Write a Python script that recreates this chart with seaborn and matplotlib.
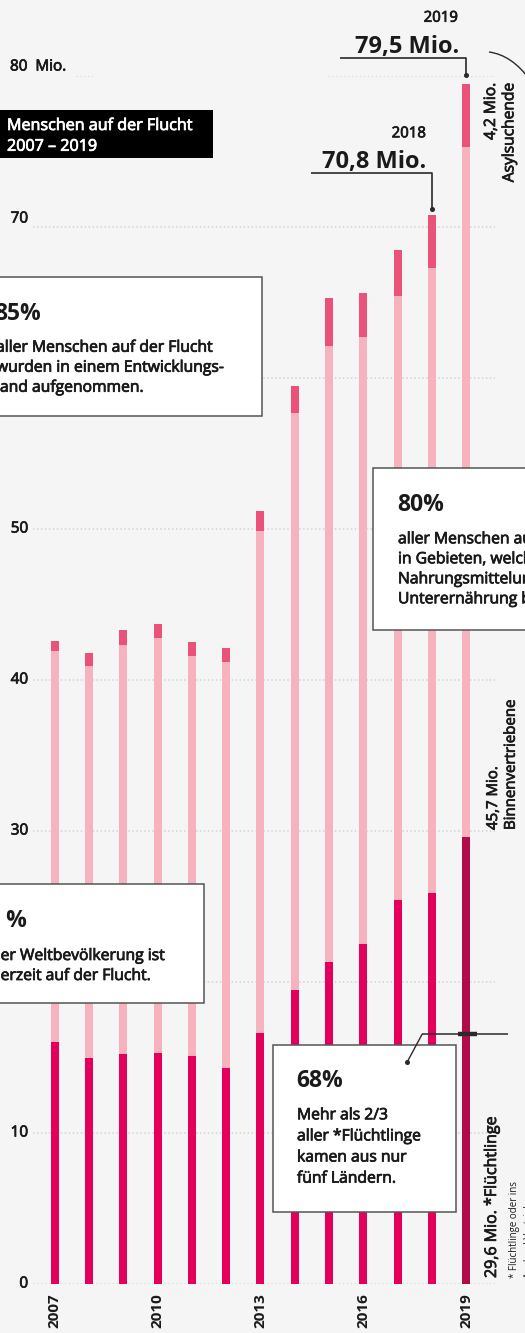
import matplotlib
matplotlib.use("Agg")
import matplotlib.pyplot as plt
import matplotlib.patheffects as pe
import numpy as np
import pandas as pd
import seaborn as sns
from matplotlib.patches import Rectangle, PathPatch
from matplotlib.path import Path
from matplotlib.lines import Line2D

# ---- data (Mio. Menschen) ----
years = [2007, 2008, 2009, 2010, 2011, 2012, 2013, 2014, 2015, 2016, 2017, 2018, 2019]
refugees = [16.0, 15.0, 15.2, 15.3, 15.1, 14.3, 16.6, 19.5, 21.3, 22.5, 25.4, 25.9, 29.6]
idps = [25.9, 25.9, 27.1, 27.5, 26.5, 26.9, 33.3, 38.2, 40.8, 40.2, 40.0, 41.4, 45.7]
asylum = [0.7, 0.9, 1.0, 0.9, 0.9, 0.9, 1.3, 1.8, 3.2, 2.9, 3.1, 3.5, 4.2]
shown_years = [2007, 2010, 2013, 2016, 2019]
y_ticks = [0, 10, 20, 30, 40, 50, 60, 70, 80]

W, H = 525, 1333
BG = "#f5f5f5"
C_REF = "#e4005a"
C_REF_LAST = "#b30a4b"
C_IDP = "#f7b3bd"
C_ASY = "#ea5279"
INK = "#1a1a1a"
BODY = 11.3

sns.set_theme(style="white")
plt.rcParams["font.family"] = ["Open Sans", "DejaVu Sans"]

df = pd.DataFrame({"year": [str(y) for y in years],
                   "ref": refugees, "idp": idps, "asy": asylum})
df["mid"] = df["ref"] + df["idp"]
df["total"] = df["mid"] + df["asy"]


def fx(px):
    return px / W


def fy(py):
    return 1 - py / H


def de_num(v):
    return f"{v:.1f}".replace(".", ",")


def semi(color=INK, w=0.55):
    # slightly heavier strokes for the medium-weight texts
    return [pe.withStroke(linewidth=w, foreground=color)]


fig = plt.figure(figsize=(W / 100, H / 100), dpi=100, facecolor=BG)
ax = fig.add_axes([fx(33), fy(1284), (497 - 33) / W, (1284 - 76) / H])
ax.set_facecolor(BG)

BAR_W = 0.235
common = dict(ax=ax, width=BAR_W, saturation=1, linewidth=0, zorder=2)
sns.barplot(data=df, x="year", y="total", color=C_ASY, **common)
sns.barplot(data=df, x="year", y="mid", color=C_IDP, **common)
ref_palette = [C_REF] * (len(years) - 1) + [C_REF_LAST]
sns.barplot(data=df, x="year", y="ref", hue="year", palette=ref_palette,
            legend=False, **common)

ax.set_xlim(-0.633, 12.9)
ax.set_ylim(0, 80)
for s in ax.spines.values():
    s.set_visible(False)
ax.set_xlabel("")
ax.set_ylabel("")

# dotted grid lines
grid_kw = dict(color="#d3d3d3", lw=1.1, linestyles=(0, (1, 1.6)), zorder=1)
for v in y_ticks[:-1]:
    ax.hlines(v, -0.633, 12.845, **grid_kw)
ax.hlines(80, 0.621, 1.117, **grid_kw)
ax.hlines(80, 7.972, 12.845, **grid_kw)

# x axis labels
pos = [years.index(y) for y in shown_years]
ax.set_xticks(pos)
ax.set_xticklabels([str(y) for y in shown_years], rotation=90,
                   fontsize=11, fontweight="bold", color=INK)
ax.tick_params(axis="x", length=0, pad=6.5)

# y axis labels (upper ones sit a little above their grid line)
ax.set_yticks([])
lift = {70: 8, 80: 9}
for v in y_ticks:
    txt = f"{v}  Mio." if v == 80 else str(v)
    ha = "left" if v == 80 else "right"
    xo = -23 if v == 80 else -5
    ax.annotate(txt, xy=(0, v), xycoords=("axes fraction", "data"),
                xytext=(xo, lift.get(v, 0)), textcoords="offset pixels",
                ha=ha, va="center", fontsize=11, color=INK,
                path_effects=semi(), annotation_clip=False)


def ftext(px, py, s, **kw):
    kw.setdefault("color", INK)
    kw.setdefault("zorder", 6)
    return fig.text(fx(px), fy(py), s, **kw)


def box(x0, y0, x1, y1, face="white", edge="#555555", lw=1.1):
    fig.add_artist(Rectangle((fx(x0), fy(y1)), (x1 - x0) / W, (y1 - y0) / H,
                             transform=fig.transFigure, facecolor=face,
                             edgecolor=edge, lw=lw, zorder=5))


def block(px, py_big, big, py_first, lines, step, px_body=None):
    ftext(px, py_big, big, fontsize=16.5, fontweight="bold", va="baseline")
    xb = px + 1 if px_body is None else px_body
    for i, line in enumerate(lines):
        ftext(xb, py_first + i * step, line, fontsize=BODY,
              va="baseline", path_effects=semi())


# title
box(-2, 110, 213, 158, face="black", edge="black", lw=0)
ftext(7, 130, "Menschen auf der Flucht", fontsize=11.6, color="white",
      va="baseline", path_effects=semi("white"))
ftext(7, 150.7, "2007 – 2019", fontsize=11.6, color="white",
      va="baseline", path_effects=semi("white"))

# info boxes
box(-30, 277, 262, 416)
block(-6, 320, "85%", 351.7, ["aller Menschen auf der Flucht",
                              "wurden in einem Entwicklungs-",
                              "land aufgenommen."], 20, px_body=-4)

box(373, 468, 560, 630)
block(397, 511, "80%", 543.3, ["aller Menschen auf der Flucht leben",
                               "in Gebieten, welche von akuter",
                               "Nahrungsmittelunsicherheit und",
                               "Unterernährung betroffen sind."], 20)

box(-33, 884, 204, 1003)
block(-13, 926.7, "1 %", 960, ["der Weltbevölkerung ist",
                                "derzeit auf der Flucht."], 20, px_body=-9)

box(273, 1045, 456, 1212)
block(296, 1087.3, "68%", 1119.3, ["Mehr als 2/3",
                                   "aller *Flüchtlinge",
                                   "kamen aus nur",
                                   "fünf Ländern."], 21.1)

# totals for 2018 and 2019 with leader lines
tot = df["total"].tolist()
i19, i18 = years.index(2019), years.index(2018)
ftext(458, 21.7, "2019", fontsize=10.8, ha="right", va="baseline",
      path_effects=semi())
ftext(459, 53.3, de_num(tot[i19]) + " Mio.", fontsize=17, fontweight="bold",
      ha="right", va="baseline")
ftext(426, 137.3, "2018", fontsize=10.8, ha="right", va="baseline",
      path_effects=semi())
ftext(426, 168.3, de_num(tot[i18]) + " Mio.", fontsize=17, fontweight="bold",
      ha="right", va="baseline")

lead_kw = dict(color="#2a2a2a", lw=1.2, clip_on=False, zorder=4,
               solid_capstyle="butt")
for idx, x_start, up, dot in [(i19, 8.32, 1.7, 0.57), (i18, 7.48, 2.8, 0.4)]:
    t = tot[idx]
    ax.plot([x_start, idx, idx], [t + up, t + up, t + dot], **lead_kw)
    ax.plot([idx], [t + dot], "o", ms=2.6, color="#2a2a2a", clip_on=False,
            zorder=4)

# bracket arc next to the asylum segment
arc = Path([(fx(489), fy(52)), (fx(512), fy(55)), (fx(530), fy(80))],
           [Path.MOVETO, Path.CURVE3, Path.CURVE3])
fig.add_artist(PathPatch(arc, transform=fig.transFigure, fill=False,
                         edgecolor="#2a2a2a", lw=1.0, zorder=6))

# rotated segment labels for 2019
ftext(483, 83, de_num(asylum[i19]) + " Mio.\nAsylsuchende", fontsize=11.2,
      rotation=90, ha="left", va="top", multialignment="right",
      linespacing=1.2, path_effects=semi())
ftext(486, 830, de_num(idps[i19]) + " Mio.\nBinnenvertriebene", fontsize=10.8,
      rotation=90, ha="left", va="bottom", multialignment="left",
      linespacing=1.25, path_effects=semi())
ftext(492, 1278, de_num(refugees[i19]) + " Mio. *Flüchtlinge", fontsize=11.5,
      rotation=90, ha="center", va="bottom", path_effects=semi())
ftext(509, 1278, "* Flüchtlinge oder ins\nAusland Vertriebene", fontsize=7,
      rotation=90, ha="left", va="bottom", multialignment="left",
      linespacing=1.55)

# marker on the 2019 refugee bar with leader into the 68% box
mark_y = 16.56
mk = dict(transform=ax.transData, color="#2a2a2a", zorder=7,
          solid_capstyle="butt")
fig.add_artist(Line2D([10.72, 13.22], [mark_y, mark_y], lw=1.1, **mk))
fig.add_artist(Line2D([11.76, 12.32], [mark_y, mark_y], lw=3.2, **mk))
fig.add_artist(Line2D([10.72, 10.28], [mark_y, 14.70], lw=1.0, **mk))
fig.add_artist(Line2D([10.28], [14.70], marker="o", ms=2.6, lw=0, **mk))

fig.savefig("out.png", dpi=100, facecolor=BG)
